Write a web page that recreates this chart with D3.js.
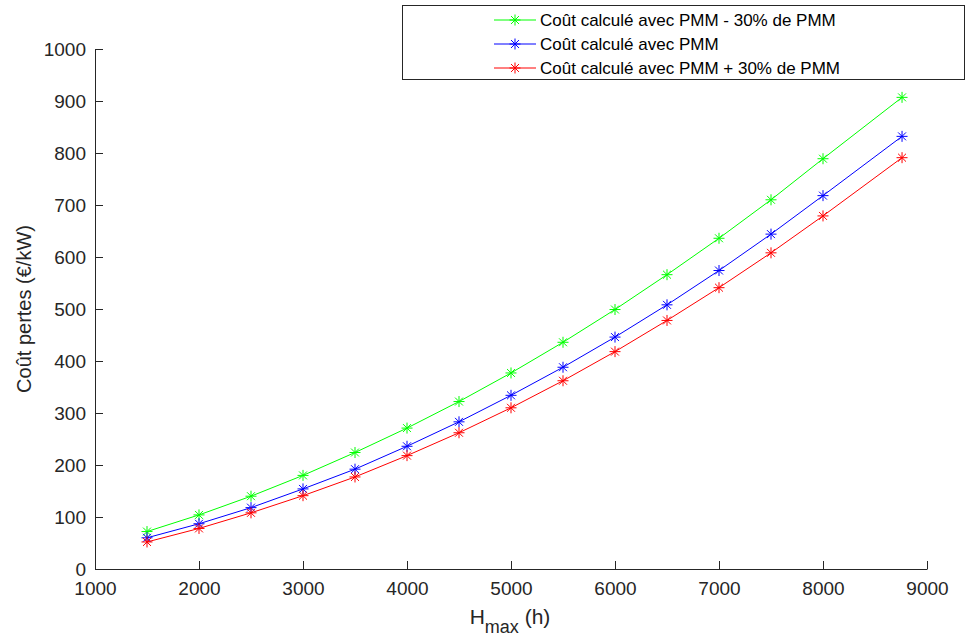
<!DOCTYPE html>
<html><head><meta charset="utf-8">
<script src="https://cdn.jsdelivr.net/npm/d3@7"></script>
<style>body{margin:0;background:#fff}svg{display:block}text{font-family:Arial,"Liberation Sans",Helvetica,sans-serif}</style>
</head><body>
<script>
const hours = [1500,2000,2500,3000,3500,4000,4500,5000,5500,6000,6500,7000,7500,8000,8760];
const costMinus30 = [72,104,140,180,224,271,322,377,436,499,566,636,710,789,907];
const costPMM = [60,87,118,154,192,236,283,334,388,446,508,574,644,718,832];
const costPlus30 = [52,78,108,141,177,218,262,310,362,418,478,541,608,679,791];
const seriesNames = ["Coût calculé avec PMM - 30% de PMM","Coût calculé avec PMM","Coût calculé avec PMM + 30% de PMM"];
const seriesColors = ["#00ff00","#0000ff","#ff0000"];
const xTicks = [1000,2000,3000,4000,5000,6000,7000,8000,9000];
const yTicks = [0,100,200,300,400,500,600,700,800,900,1000];

const W=970,H=637;
const svg=d3.select("body").append("svg").attr("width",W).attr("height",H);
const x=d3.scaleLinear().domain([1000,9000]).range([95,927]);
const y=d3.scaleLinear().domain([0,1000]).range([569,49]);

const series=[costMinus30,costPMM,costPlus30];
const line=d3.line().x(d=>x(d[0])).y(d=>y(d[1]));
function star(g,cx,cy,c){
  const r=5.5, d=r*0.72;
  const p=`M${cx-r},${cy}L${cx+r},${cy}M${cx},${cy-r}L${cx},${cy+r}M${cx-d},${cy-d}L${cx+d},${cy+d}M${cx-d},${cy+d}L${cx+d},${cy-d}`;
  g.append("path").attr("d",p).attr("stroke",c).attr("stroke-width",1).attr("fill","none");
}
series.forEach((s,i)=>{
  const pts=hours.map((h,j)=>[h,s[j]]);
  const g=svg.append("g");
  g.append("path").attr("d",line(pts)).attr("fill","none").attr("stroke",seriesColors[i]).attr("stroke-width",1);
  pts.forEach(p=>star(g,x(p[0]),y(p[1]),seriesColors[i]));
});

// axes
const axCol="#262626";
const fmt=d3.format("d");
const xa=svg.append("g").attr("transform","translate(0,569)")
  .call(d3.axisBottom(x).tickValues(xTicks).tickFormat(fmt).tickSizeInner(-8).tickSizeOuter(0).tickPadding(13));
const ya=svg.append("g").attr("transform","translate(95,0)")
  .call(d3.axisLeft(y).tickValues(yTicks).tickFormat(fmt).tickSizeInner(-8).tickSizeOuter(0).tickPadding(9));
[xa,ya].forEach(a=>{
  a.select(".domain").attr("stroke",axCol).attr("stroke-width",1);
  a.selectAll(".tick line").attr("stroke",axCol);
  a.selectAll(".tick text").attr("fill",axCol).style("font-size","19px");
});

// axis labels
const xl=svg.append("text").attr("x",510).attr("y",624).attr("text-anchor","middle").attr("fill",axCol).style("font-size","21px");
xl.append("tspan").text("H");
xl.append("tspan").attr("dy",9).style("font-size","18px").text("max");
xl.append("tspan").attr("dy",-9).text(" (h)");
svg.append("text").attr("transform","translate(31,309) rotate(-90)").attr("text-anchor","middle")
  .attr("fill",axCol).style("font-size","20px").text("Coût pertes (€/kW)");

// legend
const lg=svg.append("g");
lg.append("rect").attr("x",402.5).attr("y",5.5).attr("width",562).attr("height",74).attr("fill","#fff").attr("stroke",axCol).attr("stroke-width",1);
const rows=[20,44,68];
seriesNames.forEach((n,i)=>{
  lg.append("line").attr("x1",494).attr("x2",536).attr("y1",rows[i]).attr("y2",rows[i]).attr("stroke",seriesColors[i]).attr("stroke-width",1);
  star(lg,515,rows[i],seriesColors[i]);
  lg.append("text").attr("x",540).attr("y",rows[i]+6).attr("fill","#000").style("font-size","17px").text(n);
});
</script>
</body></html>
